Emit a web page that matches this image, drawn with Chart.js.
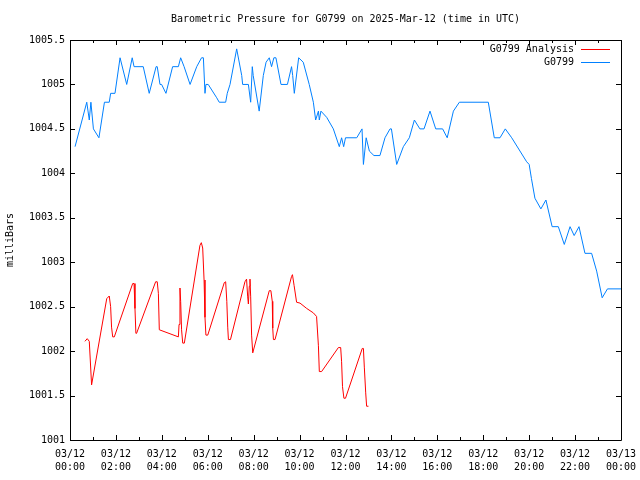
<!DOCTYPE html>
<html>
<head>
<meta charset="utf-8">
<script src="https://cdn.jsdelivr.net/npm/chart.js@4.4.1/dist/chart.umd.min.js"></script>
<style>
  html, body { margin: 0; padding: 0; background: #fff; }
  #wrap { width: 640px; height: 480px; }
</style>
</head>
<body>
<div id="wrap"><canvas id="pressureChart" width="640" height="480"></canvas></div>
<script>
// 気圧データ (時間は 03/12 00:00 UTC からの経過時間)
const chartTitle = 'Barometric Pressure for G0799 on 2025-Mar-12 (time in UTC)';
const yAxisTitle = 'milliBars';

const analysisHours = [0.65, 0.75, 0.84, 0.94, 1.60, 1.71, 1.77, 1.81, 1.86, 1.93,
  2.73, 2.79, 2.83, 2.87, 2.90, 3.73, 3.80, 3.85, 3.89, 4.72, 4.75, 4.79, 4.82, 4.86,
  4.91, 4.98, 5.66, 5.72, 5.78, 5.84, 5.88, 5.92, 6.00, 6.72, 6.78, 6.83, 6.87, 6.90,
  6.99, 7.62, 7.69, 7.74, 7.77, 7.81, 7.84, 7.87, 7.91, 7.96, 8.68, 8.75, 8.81, 8.83,
  8.86, 8.93, 9.65, 9.69, 9.76, 9.87, 10.02, 10.31, 10.60, 10.74, 10.82, 10.86, 10.96,
  11.69, 11.79, 11.83, 11.87, 11.93, 12.00, 12.73, 12.78, 12.82, 12.88, 12.92, 13.00];
const analysisValues = [1002.11, 1002.14, 1002.11, 1001.62, 1002.59, 1002.62, 1002.50, 1002.27, 1002.16, 1002.16,
  1002.76, 1002.76, 1002.48, 1002.20, 1002.20, 1002.78, 1002.78, 1002.65, 1002.24, 1002.16, 1002.30, 1002.71, 1002.56, 1002.24,
  1002.09, 1002.09, 1003.19, 1003.22, 1003.16, 1002.80, 1002.38, 1002.18, 1002.18, 1002.77, 1002.78, 1002.56, 1002.27, 1002.13,
  1002.13, 1002.78, 1002.81, 1002.61, 1002.53, 1002.73, 1002.81, 1002.61, 1002.18, 1001.98, 1002.68, 1002.68, 1002.56, 1002.26,
  1002.13, 1002.13, 1002.84, 1002.86, 1002.74, 1002.55, 1002.54, 1002.48, 1002.43, 1002.39, 1002.06, 1001.77, 1001.77,
  1002.04, 1002.04, 1001.88, 1001.60, 1001.47, 1001.47, 1002.03, 1002.03, 1001.82, 1001.53, 1001.38, 1001.38];

const stationHours = [0.22, 0.73, 0.84, 0.91, 1.02, 1.26, 1.50, 1.71, 1.77, 1.96,
  2.18, 2.47, 2.71, 2.79, 3.19, 3.45, 3.75, 3.80, 3.92, 3.99, 4.18, 4.47, 4.72, 4.82,
  4.97, 5.23, 5.52, 5.73, 5.81, 5.88, 5.92, 6.02, 6.39, 6.50, 6.78, 6.85, 6.97, 7.26,
  7.48, 7.52, 7.77, 7.87, 7.94, 7.98, 8.24, 8.42, 8.54, 8.68, 8.78, 8.88, 8.97, 9.19,
  9.47, 9.65, 9.70, 9.77, 9.96, 10.16, 10.42, 10.60, 10.70, 10.82, 10.86, 10.93, 11.18,
  11.47, 11.73, 11.83, 11.92, 12.00, 12.49, 12.72, 12.78, 12.90, 13.04, 13.24, 13.50,
  13.72, 13.94, 14.00, 14.23, 14.52, 14.78, 15.00, 15.24, 15.42, 15.68, 15.93, 16.23,
  16.43, 16.70, 16.96, 18.22, 18.48, 18.73, 18.96, 19.24, 19.89, 20.00, 20.10, 20.25,
  20.51, 20.73, 21.00, 21.27, 21.53, 21.78, 21.96, 22.17, 22.43, 22.72, 22.94, 23.18,
  23.41, 24.00];
const stationValues = [1004.3, 1004.8, 1004.6, 1004.8, 1004.5, 1004.4, 1004.8, 1004.8, 1004.9, 1004.9,
  1005.3, 1005.0, 1005.3, 1005.2, 1005.2, 1004.9, 1005.2, 1005.2, 1005.0, 1005.0, 1004.9, 1005.2, 1005.2, 1005.3,
  1005.2, 1005.0, 1005.2, 1005.3, 1005.3, 1004.9, 1005.0, 1005.0, 1004.85, 1004.8, 1004.8, 1004.9, 1005.0, 1005.4,
  1005.1, 1005.0, 1005.0, 1004.8, 1005.2, 1005.1, 1004.7, 1005.1, 1005.25, 1005.3, 1005.2, 1005.3, 1005.3, 1005.0,
  1005.0, 1005.2, 1005.1, 1004.9, 1005.3, 1005.25, 1005.0, 1004.8, 1004.6, 1004.7, 1004.6, 1004.7, 1004.63,
  1004.5, 1004.3, 1004.4, 1004.3, 1004.4, 1004.4, 1004.5, 1004.1, 1004.4, 1004.25, 1004.2, 1004.2,
  1004.4, 1004.5, 1004.5, 1004.1, 1004.3, 1004.4, 1004.6, 1004.5, 1004.5, 1004.7, 1004.5, 1004.5,
  1004.4, 1004.7, 1004.8, 1004.8, 1004.4, 1004.4, 1004.5, 1004.4, 1004.13, 1004.1, 1003.94, 1003.72,
  1003.6, 1003.7, 1003.4, 1003.4, 1003.2, 1003.4, 1003.3, 1003.4, 1003.1, 1003.1, 1002.9, 1002.6,
  1002.7, 1002.7];

// x軸ラベル (2時間ごと)
const xTickDates = ['03/12', '03/12', '03/12', '03/12', '03/12', '03/12', '03/12',
  '03/12', '03/12', '03/12', '03/12', '03/12', '03/13'];
const xTickTimes = ['00:00', '02:00', '04:00', '06:00', '08:00', '10:00', '12:00',
  '14:00', '16:00', '18:00', '20:00', '22:00', '00:00'];

const FONT = '"DejaVu Sans Mono", "Liberation Mono", monospace';

function toPoints(xs, ys) {
  return xs.map((x, i) => ({ x: x, y: ys[i] }));
}

// gnuplot 風の枠・目盛・タイトル・凡例
const gnuplotFrame = {
  id: 'gnuplotFrame',
  afterDraw(chart) {
    const ctx = chart.ctx;
    const area = chart.chartArea;
    const xs = chart.scales.x;
    const ys = chart.scales.y;
    ctx.save();
    ctx.strokeStyle = '#000';
    ctx.lineWidth = 1;
    ctx.beginPath();
    ctx.rect(Math.round(area.left) + 0.5, Math.round(area.top) + 0.5,
      Math.round(area.right - area.left), Math.round(area.bottom - area.top));
    ctx.stroke();

    ctx.beginPath();
    for (let h = 0; h <= 24; h++) {
      const px = Math.round(xs.getPixelForValue(h)) + 0.5;
      const len = h % 2 === 0 ? 5 : 3;
      ctx.moveTo(px, area.bottom);
      ctx.lineTo(px, area.bottom - len);
      ctx.moveTo(px, area.top);
      ctx.lineTo(px, area.top + len);
    }
    for (let v = 1001; v <= 1005.5; v += 0.5) {
      const py = Math.round(ys.getPixelForValue(v)) + 0.5;
      ctx.moveTo(area.left, py);
      ctx.lineTo(area.left + 5, py);
      ctx.moveTo(area.right, py);
      ctx.lineTo(area.right - 5, py);
    }
    ctx.stroke();

    // タイトル
    ctx.fillStyle = '#000';
    ctx.font = '10px ' + FONT;
    ctx.textAlign = 'center';
    ctx.textBaseline = 'middle';
    ctx.fillText(chartTitle, (area.left + area.right) / 2, 19);

    // 凡例 (右上、テキストの後ろに線)
    ctx.textAlign = 'right';
    chart.data.datasets.forEach((ds, i) => {
      const y = 49 + i * 13;
      ctx.fillStyle = '#000';
      ctx.fillText(ds.label, 574, y);
      ctx.strokeStyle = ds.borderColor;
      ctx.beginPath();
      ctx.moveTo(581, y + 0.5);
      ctx.lineTo(610, y + 0.5);
      ctx.stroke();
    });
    ctx.restore();
  }
};

const chart = new Chart(document.getElementById('pressureChart'), {
  type: 'line',
  data: {
    datasets: [{
      label: 'G0799 Analysis',
      data: toPoints(analysisHours, analysisValues),
      borderColor: '#ff0000',
      borderWidth: 1,
      pointRadius: 0,
      tension: 0,
      fill: false
    }, {
      label: 'G0799',
      data: toPoints(stationHours, stationValues),
      borderColor: '#0080ff',
      borderWidth: 1,
      pointRadius: 0,
      tension: 0,
      fill: false
    }]
  },
  options: {
    responsive: false,
    animation: false,
    devicePixelRatio: 1,
    layout: { padding: { top: 40, right: 19, left: 0, bottom: 0 } },
    plugins: {
      legend: { display: false },
      title: { display: false },
      tooltip: { enabled: false }
    },
    scales: {
      x: {
        type: 'linear',
        min: 0,
        max: 24,
        grid: { display: false, drawTicks: false },
        border: { display: false },
        afterFit: (scale) => {
          scale.height = 40;
          scale.paddingLeft = 0;
          scale.paddingRight = 0;
        },
        ticks: {
          stepSize: 2,
          padding: 8,
          maxRotation: 0,
          autoSkip: false,
          color: '#000',
          font: { family: FONT, size: 10, lineHeight: 1.3 },
          callback: (v) => {
            const i = Math.round(v / 2);
            return [xTickDates[i], xTickTimes[i]];
          }
        }
      },
      y: {
        min: 1001,
        max: 1005.5,
        grid: { display: false, drawTicks: false },
        border: { display: false },
        afterFit: (scale) => { scale.width = 70; },
        title: {
          display: true,
          text: yAxisTitle,
          color: '#000',
          padding: { top: 4, bottom: 0 },
          font: { family: FONT, size: 10 }
        },
        ticks: {
          stepSize: 0.5,
          padding: 5,
          color: '#000',
          font: { family: FONT, size: 10 },
          callback: (v) => String(v)
        }
      }
    }
  },
  plugins: [gnuplotFrame]
});
</script>
</body>
</html>
